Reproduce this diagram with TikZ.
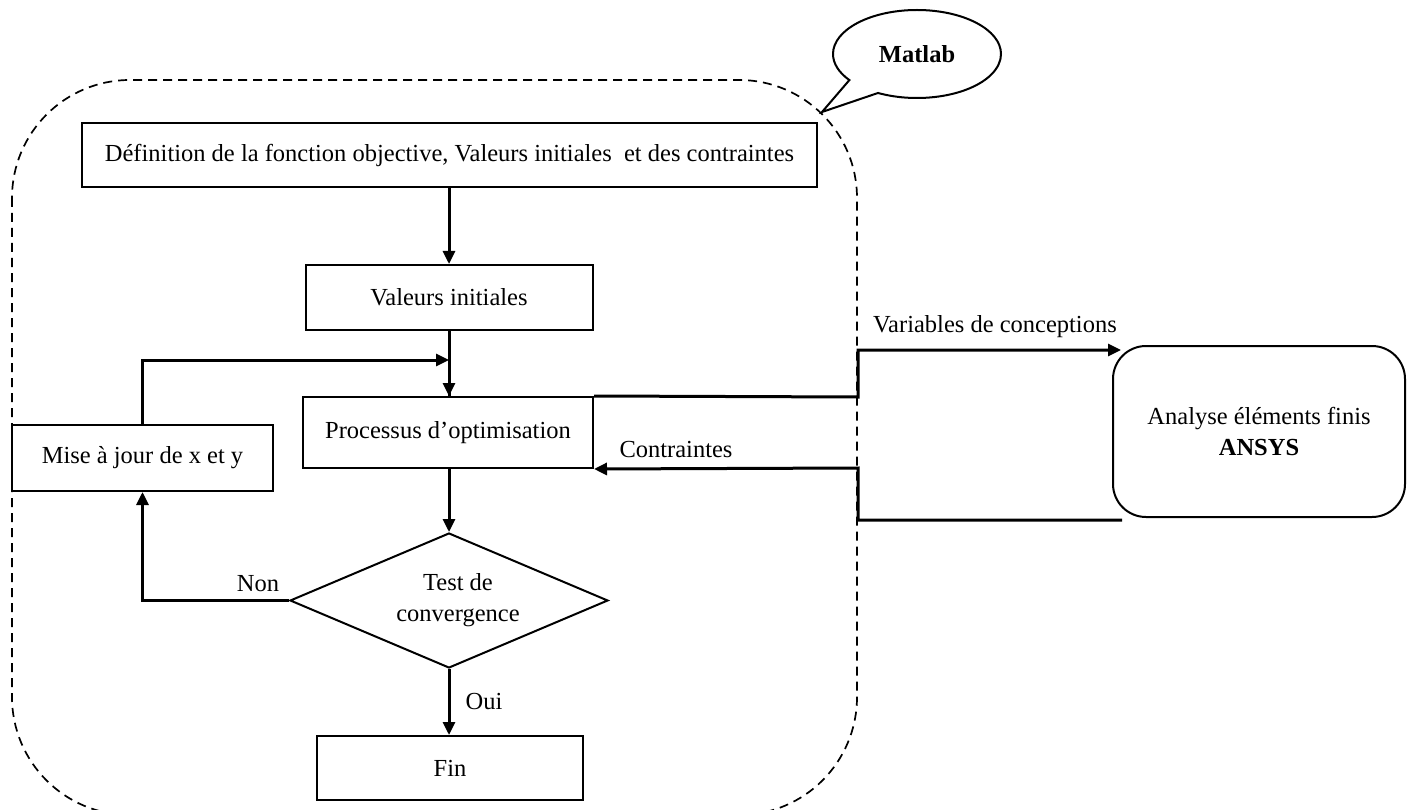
\documentclass[tikz,border=0pt]{standalone}
\usepackage{fontspec}
\setmainfont{Liberation Serif}
\usetikzlibrary{arrows.meta,shapes.geometric,shapes.callouts}
\begin{document}
\begin{tikzpicture}[x=1pt,y=-1pt,
  txt/.style={font=\fontsize{24.5}{31}\selectfont},
  box/.style={draw,line width=2pt,txt,inner sep=0pt,align=center},
  arr/.style={line width=3pt,-{Triangle[length=13pt,width=12pt]}},
  lin/.style={line width=3pt},
  lab/.style={txt,inner sep=0pt}]
\useasboundingbox (0,0) rectangle (1407,810);
\clip (0,0) rectangle (1407,810);
% Matlab container
\draw[line width=1.7pt,dash pattern=on 9pt off 6pt,rounded corners=118pt] (12,80) rectangle (857,815);
\node[ellipse callout,draw,line width=2pt,minimum width=168pt,minimum height=88pt,
  callout absolute pointer={(822,112)},callout pointer arc=26,txt,inner sep=0pt,fill=white] (matlab) at (917,54) {\textbf{Matlab}};
% nodes
\node[box,minimum width=735pt,minimum height=64pt] (def) at (449.5,155) {Définition de la fonction objective, Valeurs initiales\ \ et des contraintes};
\node[box,minimum width=287pt,minimum height=65pt] (val) at (449,297.5) {Valeurs initiales};
\node[box,minimum width=290pt,minimum height=71pt] (proc) at (448,432.5) {Processus d’optimisation};
\node[box,minimum width=261pt,minimum height=66pt] (maj) at (142.5,458) {Mise à jour de x et y};
\node[draw,diamond,line width=2pt,minimum width=318pt,minimum height=135pt,inner sep=0pt] (dia) at (449,600.5) {};
\node[lab,align=center] (diat) at (458,600) {Test de\\convergence};
\node[box,minimum width=266pt,minimum height=64pt] (fin) at (450,768) {Fin};
\node[box,rounded corners=33pt,minimum width=292pt,minimum height=171pt] (ansys) at (1259,431.5) {Analyse éléments finis\\\textbf{ANSYS}};
% coordinates
\coordinate (join) at (449,360);
\coordinate (s1) at (858,397);
\coordinate (ain) at (1121,350);
\coordinate (aout) at (1122,520);
\coordinate (s2) at (858,468);
% connectors
\draw[arr] (def.south -| 449,0) -- (val.north -| 449,0);
\draw[arr] (val.south -| 449,0) -- (proc.north -| 449,0);
\draw[arr] (proc.south -| 449,0) -- (dia.north);
\draw[arr] (dia.south) -- (fin.north -| dia.south);
\draw[arr] (dia.west) -| (maj.south);
\draw[arr] (maj.north) |- (join);
\draw[lin] (join) -- (proc.north -| join);
\draw[arr] (proc.north east) -- (s1) |- (ain);
\draw[arr] (aout) -| (s2) -- (proc.south east);
% labels
\node[lab] (lnon) at (258,584) {Non};
\node[lab] (loui) at (484,702) {Oui};
\node[lab] (lvar) at (995,327) {Variables de conceptions};
\node[lab] (lcon) at (676,450) {Contraintes};
\end{tikzpicture}
\end{document}
